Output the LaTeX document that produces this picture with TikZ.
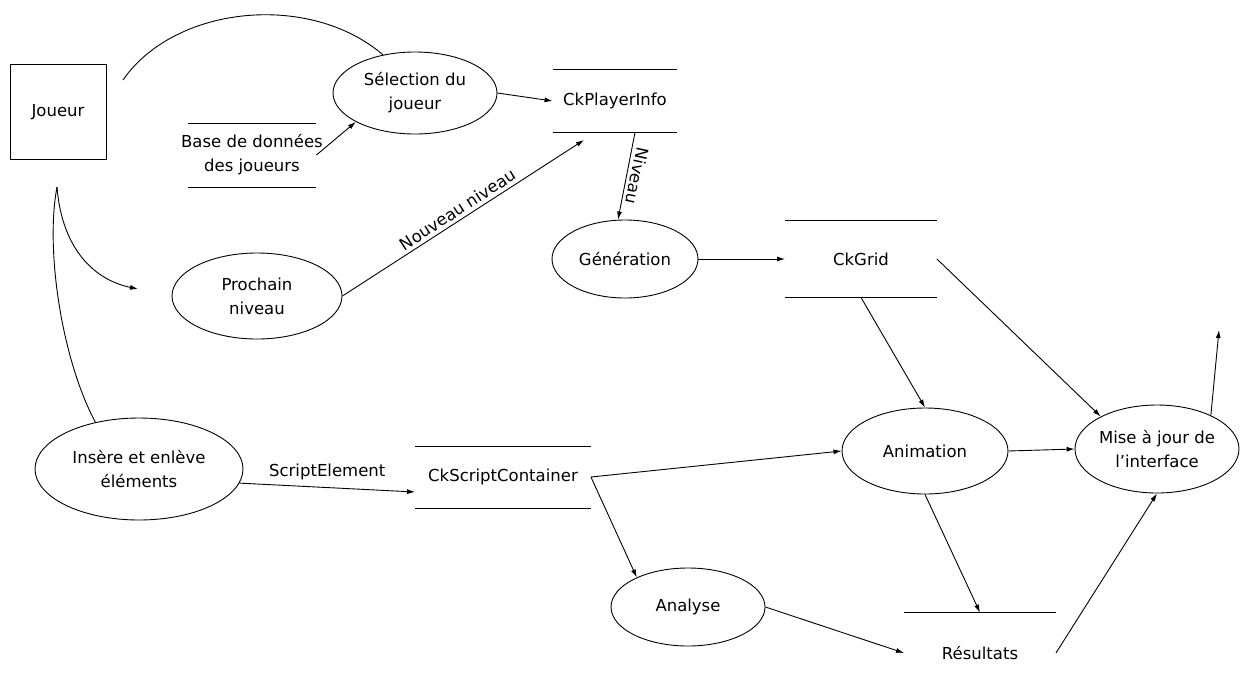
\documentclass[tikz,border=0pt]{standalone}
\usepackage{fontspec}
\setmainfont{DejaVu Sans}
\usetikzlibrary{shapes.geometric,arrows.meta}

\tikzset{
  process/.style={ellipse, draw, align=center, inner sep=0pt},
  depot/.style={align=center, inner sep=0pt,
    append after command={(\tikzlastnode.north west) edge (\tikzlastnode.north east)
      (\tikzlastnode.south west) edge (\tikzlastnode.south east)}},
  depotouvert/.style={align=center, inner sep=0pt,
    append after command={(\tikzlastnode.north west) edge (\tikzlastnode.north east)}},
}

\begin{document}
\begin{tikzpicture}[x=1pt, y=-1pt, line width=0.9pt, >={Latex[length=8pt,width=5pt]},
    font=\fontsize{16.5}{24}\selectfont]
  \useasboundingbox (0,0) rectangle (1240,686);

  % entite externe
  \node[draw, minimum width=96pt, minimum height=95pt] (joueur) at (58,112) {Joueur};

  % processus
  \node[process, minimum width=164pt, minimum height=82pt] (sel) at (415,93) {Sélection du\\joueur};
  \node[process, minimum width=170pt, minimum height=86pt] (proch) at (257,296) {Prochain\\niveau};
  \node[process, minimum width=208pt, minimum height=102pt] (ins) at (139,469) {Insère et enlève\\éléments};
  \node[process, minimum width=146pt, minimum height=78pt] (gen) at (625,259) {Génération};
  \node[process, minimum width=154pt, minimum height=78pt] (ana) at (688,607) {Analyse};
  \node[process, minimum width=166pt, minimum height=86pt] (anim) at (925,451) {Animation};
  \node[process, minimum width=162pt, minimum height=88pt] (mise) at (1157,449) {Mise à jour de\\l'interface};

  % depots
  \node[depot, minimum width=128pt, minimum height=63pt, inner xsep=-8pt] (base) at (252,155) {Base de données\\des joueurs};
  \node[depot, minimum width=124pt, minimum height=62pt] (info) at (615,101) {CkPlayerInfo};
  \node[depot, minimum width=151pt, minimum height=76pt] (grid) at (861,259) {CkGrid};
  \node[depot, minimum width=175pt, minimum height=61pt] (sc) at (503,477) {CkScriptContainer};
  \node[depotouvert, minimum width=151pt, minimum height=80pt] (res) at (980,653) {Résultats};

  % extremites libres
  \coordinate (jd) at (123,80);
  \coordinate (jb) at (57,187);
  \coordinate (pn) at (138,289);
  \coordinate (nn) at (584,140);
  \coordinate (sortie) at (1219,330);

  % flux
  \draw (jd) .. controls (175,5) and (310,-8) .. (sel.130);
  \draw[->] (base.east) -- (sel.206);
  \draw[->] (sel.east) -- (info.west);
  \draw[->] ([xshift=20pt]info.south) -- node[xshift=11pt, rotate=-102] {Niveau} ([xshift=-7pt]gen.north);
  \draw[->] (proch.east) -- node[above, sloped] {Nouveau niveau} (nn);
  \draw[->] (jb) .. controls (62,250) and (95,280) .. (pn);
  \draw (ins.133) .. controls (62,360) and (45,250) .. (jb);
  \draw[->] (ins.-8) -- node[above=4pt] {ScriptElement} ([yshift=-15pt]sc.west);
  \draw[->] (sc.east) -- (anim.west);
  \draw[->] (sc.east) -- (ana.150);
  \draw[->] (ana.east) -- (res.west);
  \draw[->] (anim.south) -- (res.north);
  \draw[->] (gen.east) -- (grid.west);
  \draw[->] (grid.south) -- (anim.north);
  \draw[->] (grid.east) -- (mise.150);
  \draw[->] (anim.east) -- (mise.west);
  \draw[->] (res.east) -- (mise.south);
  \draw[->] (mise.32) -- (sortie);
\end{tikzpicture}
\end{document}
